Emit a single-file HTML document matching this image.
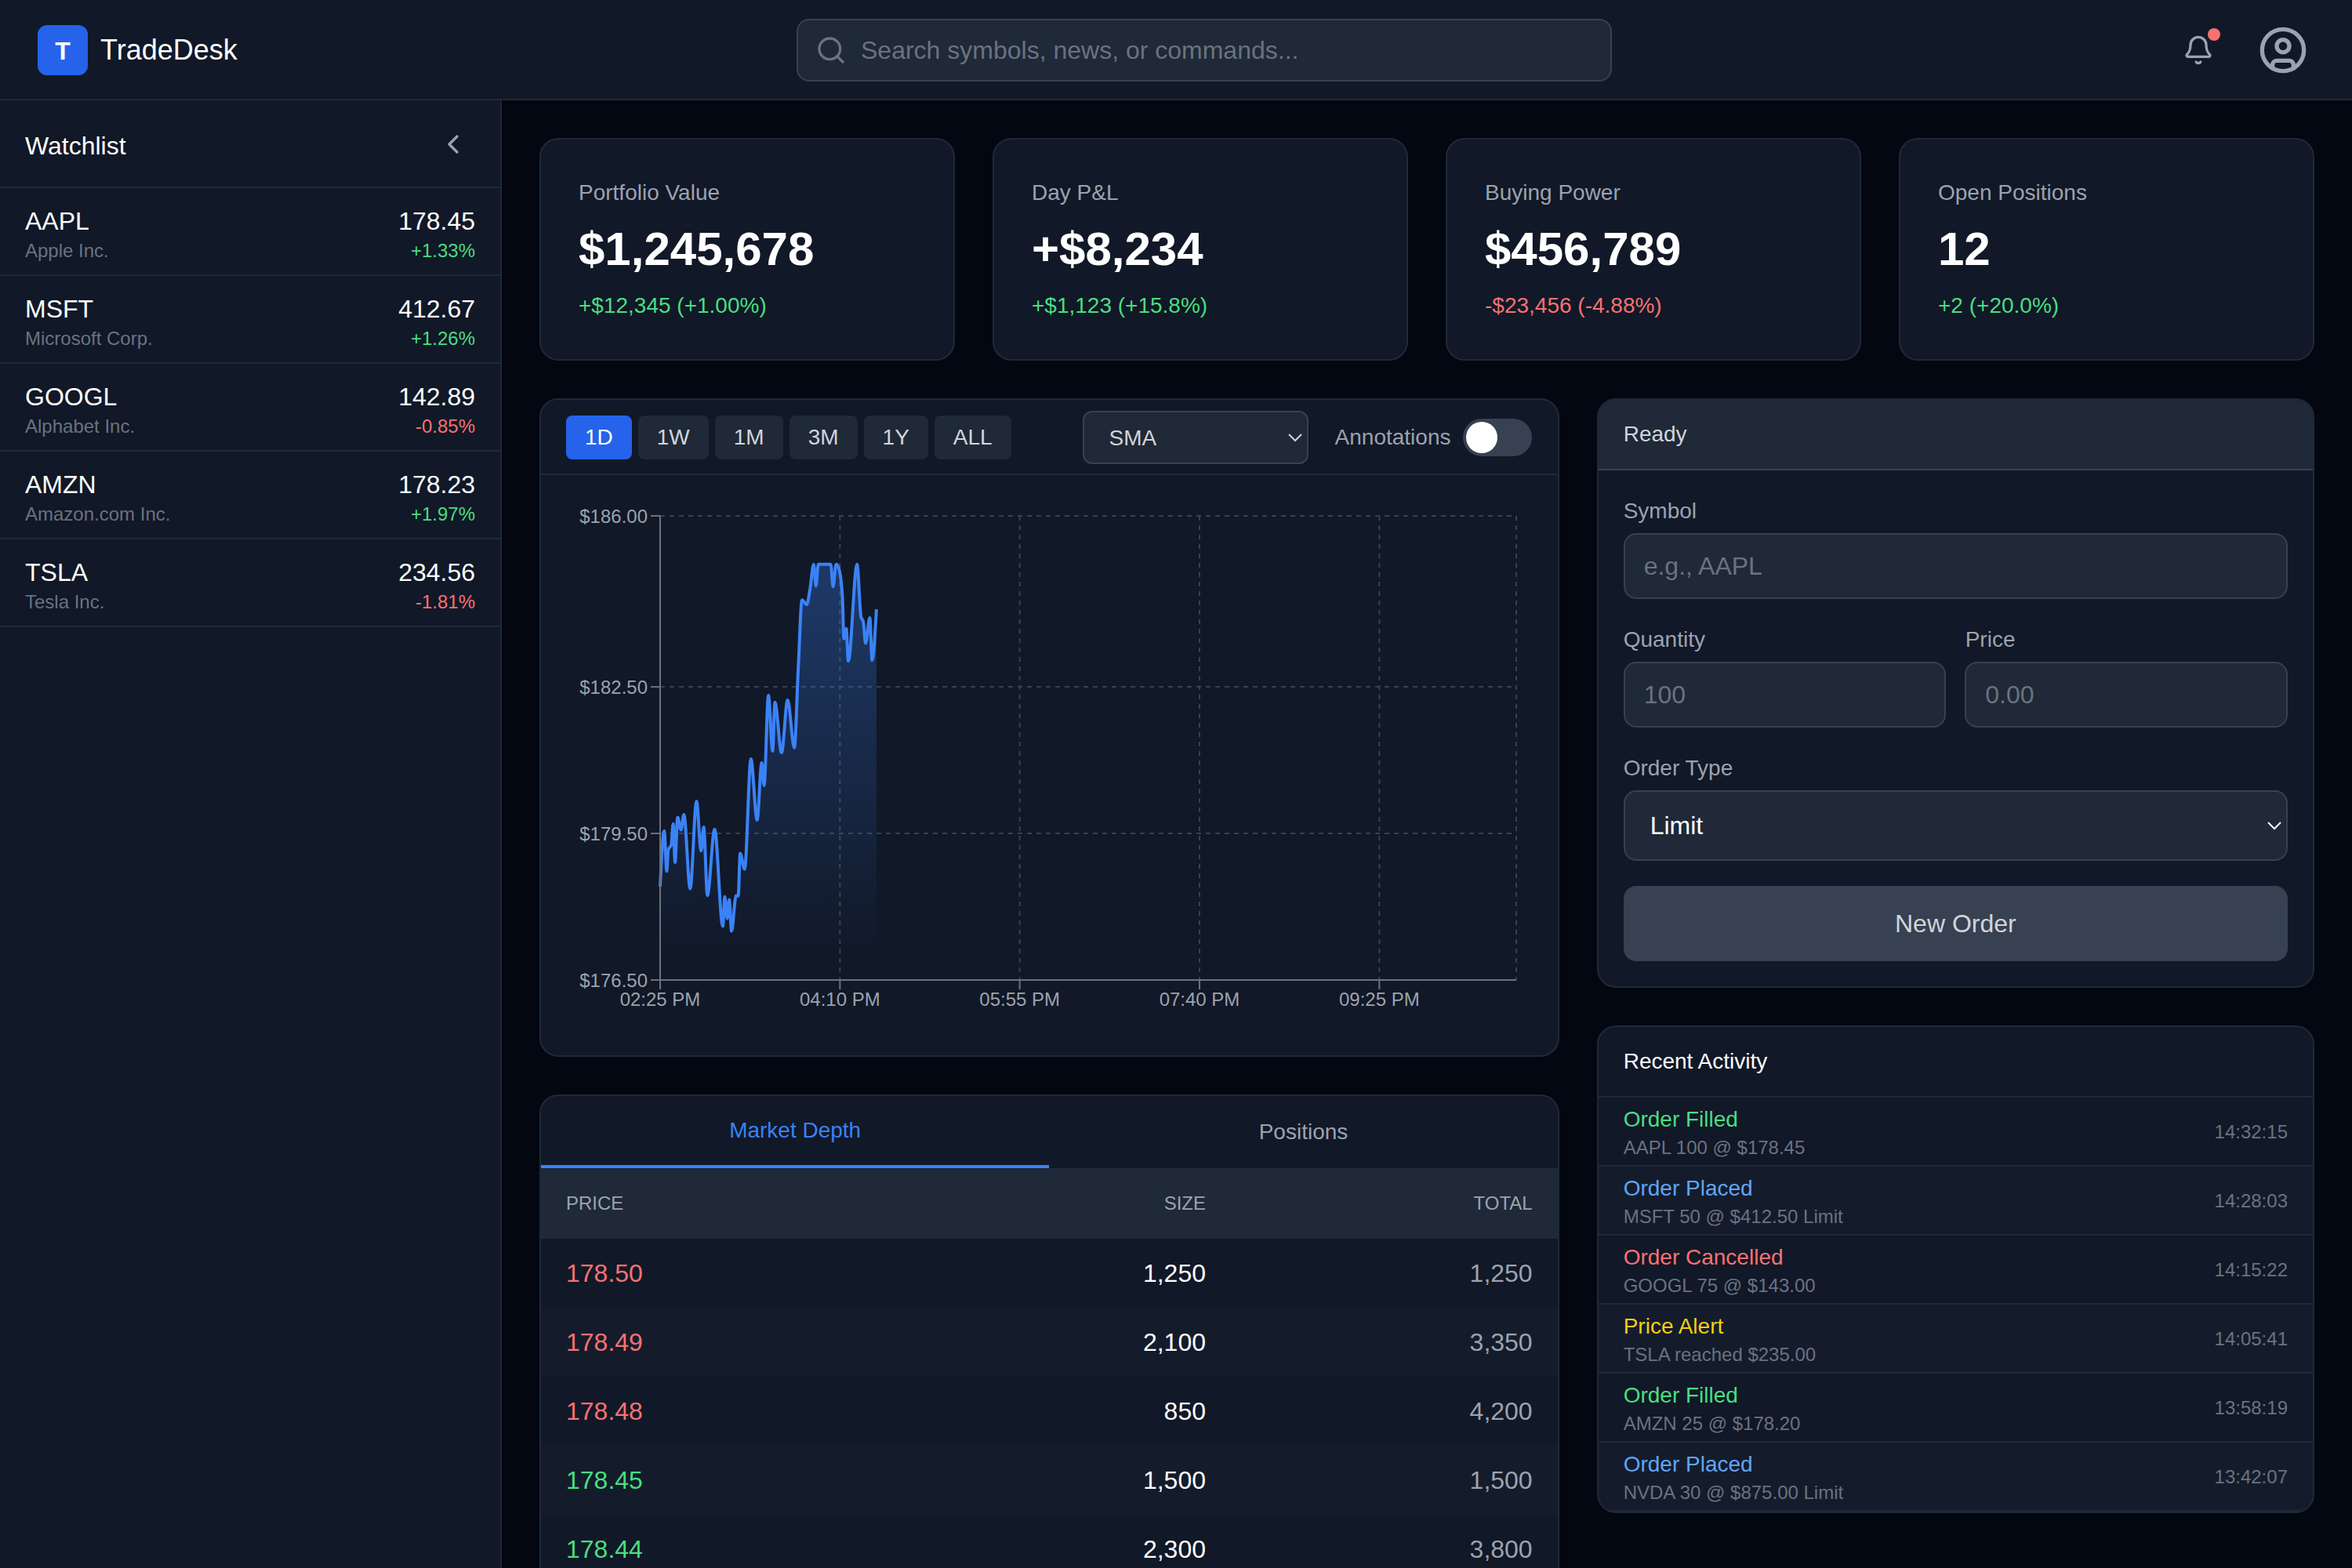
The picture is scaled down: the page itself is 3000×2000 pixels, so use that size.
<!DOCTYPE html>
<html lang="en">
<head>
<meta charset="utf-8">
<title>TradeDesk</title>
<style>
*{box-sizing:border-box;margin:0;padding:0}
html,body{width:1500px;height:1000px;overflow:hidden;background:#030712;font-family:"Liberation Sans",Arial,sans-serif;color:#f3f4f6}
.abs{position:absolute}
/* header */
#hdr{position:absolute;left:0;top:0;width:1500px;height:64px;background:#111827;border-bottom:1px solid #1f2937}
#logo{position:absolute;left:24px;top:16px;width:32px;height:32px;background:#2563eb;border-radius:6px;color:#fff;font-size:16px;font-weight:700;line-height:33px;text-align:center}
#brand{position:absolute;left:64px;top:18px;font-size:18px;line-height:28px;color:#fff;white-space:nowrap}
#search{position:absolute;left:508px;top:12px;width:520px;height:40px;background:#1f2937;border:1px solid #374151;border-radius:8px}
#search .ph{position:absolute;left:0;top:0;width:518px;height:38px;padding:0 12px 0 40px;border:0;background:transparent;font-family:inherit;font-size:16px;line-height:24px;color:#fff;outline:none}
#search .ph::placeholder{color:#6b7280;opacity:1}
#search svg{position:absolute;left:11px;top:9px}
/* sidebar */
#side{position:absolute;left:0;top:64px;width:320px;height:936px;background:#111827;border-right:1px solid #1f2937}
#side .wh{position:absolute;left:0;top:0;width:319px;height:56px;border-bottom:1px solid #1f2937}
#side .wh .t{position:absolute;left:16px;top:17px;font-size:16px;line-height:24px;color:#fff}
.wrow{position:absolute;left:0;width:319px;height:56px;border-bottom:1px solid #1f2937}
.wrow .tk{position:absolute;left:16px;top:9px;font-size:16px;line-height:24px;color:#fff}
.wrow .nm{position:absolute;left:16px;top:32px;font-size:12px;line-height:16px;color:#6b7280}
.wrow .pr{position:absolute;right:16px;top:9px;font-size:16px;line-height:24px;color:#fff}
.wrow .ch{position:absolute;right:16px;top:32px;font-size:12px;line-height:16px}
.g{color:#4ade80}.r{color:#f87171}.b{color:#60a5fa}.y{color:#facc15}
/* cards */
.card{position:absolute;background:#111827;border:1px solid #1f2937;border-radius:12px;overflow:hidden}
.stat .lb{position:absolute;left:24px;top:24px;font-size:14px;line-height:20px;color:#9ca3af;white-space:nowrap}
.stat .vl{position:absolute;left:24px;top:52px;font-size:30px;font-weight:700;line-height:36px;color:#fff;white-space:nowrap}
.stat .cg{position:absolute;left:24px;top:96px;font-size:14px;line-height:20px;white-space:nowrap}

/* chart card */
.tb{position:absolute;left:0;top:0;width:100%;height:48px;border-bottom:1px solid #1f2937}
.tf{position:absolute;left:16px;top:10px;display:flex;gap:4px}
.tf div{height:28px;padding:0 12px;font-size:14px;line-height:28px;border-radius:4px;background:#1f2937;color:#d1d5db}
.tf div.on{background:#2563eb;color:#fff}

/* order panel */
.fl{position:absolute;font-size:14px;line-height:20px;color:#9ca3af;white-space:nowrap}
.inp{position:absolute;height:42px;background:#1f2937;border:1px solid #374151;border-radius:8px;padding:0 12px;font-size:16px;line-height:24px;color:#fff;font-family:inherit;outline:none}
.inp::placeholder{color:#6b7280;opacity:1}
select.ns{position:absolute;font-family:inherit;outline:none}

/* depth */
.tab{position:absolute;top:0;height:46px;font-size:14px;line-height:20px;text-align:center}
.th{position:absolute;font-size:12px;line-height:16px;color:#9ca3af;white-space:nowrap}
.dr{position:absolute;left:0;width:100%;height:44px}
.dr div{position:absolute;top:10px;font-size:16px;line-height:24px;white-space:nowrap}
.dr .c1{left:16px}.dr .c2{right:224.33px;color:#fff}.dr .c3{right:16px;color:#9ca3af}
.alt{background:rgba(31,41,55,0.3)}
/* activity */
.ar{position:absolute;left:0;width:100%;height:44px;border-bottom:1px solid #1f2937}
.ar .t1{position:absolute;left:16px;top:4px;font-size:14px;line-height:20px;white-space:nowrap}
.ar .t2{position:absolute;left:16px;top:24px;font-size:12px;line-height:16px;color:#6b7280;white-space:nowrap}
.ar .tm{position:absolute;right:16px;top:14px;font-size:12px;line-height:16px;color:#6b7280}
@media (min-width:2500px){html{zoom:2}}
</style>
</head>
<body>
<div id="hdr">
  <div id="logo">T</div>
  <div id="brand">TradeDesk</div>
  <div id="search">
    <svg width="20" height="20" viewBox="0 0 24 24" fill="none" stroke="#6b7280" stroke-width="2" stroke-linecap="round" stroke-linejoin="round"><circle cx="11" cy="11" r="8"/><path d="m21 21-4.3-4.3"/></svg>
    <input class="ph" placeholder="Search symbols, news, or commands...">
  </div>
  <svg class="abs" style="left:1392px;top:22px" width="20" height="20" viewBox="0 0 24 24" fill="none" stroke="#9ca3af" stroke-width="2" stroke-linecap="round" stroke-linejoin="round"><path d="M10.268 21a2 2 0 0 0 3.464 0"/><path d="M3.262 15.326A1 1 0 0 0 4 17h16a1 1 0 0 0 .74-1.673C19.41 13.956 18 12.499 18 8A6 6 0 0 0 6 8c0 4.499-1.411 5.956-2.738 7.326"/></svg>
  <div class="abs" style="left:1408px;top:18px;width:8px;height:8px;border-radius:50%;background:#f87171"></div>
  <svg class="abs" style="left:1440px;top:16px" width="32" height="32" viewBox="0 0 24 24" fill="none" stroke="#9ca3af" stroke-width="2" stroke-linecap="round" stroke-linejoin="round"><circle cx="12" cy="12" r="10"/><circle cx="12" cy="10" r="3"/><path d="M7 20.662V19a2 2 0 0 1 2-2h6a2 2 0 0 1 2 2v1.662"/></svg>
</div>

<div id="side">
  <div class="wh"><div class="t">Watchlist</div>
    <svg class="abs" style="left:279px;top:18px" width="20" height="20" viewBox="0 0 24 24" fill="none" stroke="#9ca3af" stroke-width="2" stroke-linecap="round" stroke-linejoin="round"><path d="m15 18-6-6 6-6"/></svg>
  </div>
  <div class="wrow" style="top:56px"><div class="tk">AAPL</div><div class="nm">Apple Inc.</div><div class="pr">178.45</div><div class="ch g">+1.33%</div></div>
  <div class="wrow" style="top:112px"><div class="tk">MSFT</div><div class="nm">Microsoft Corp.</div><div class="pr">412.67</div><div class="ch g">+1.26%</div></div>
  <div class="wrow" style="top:168px"><div class="tk">GOOGL</div><div class="nm">Alphabet Inc.</div><div class="pr">142.89</div><div class="ch r">-0.85%</div></div>
  <div class="wrow" style="top:224px"><div class="tk">AMZN</div><div class="nm">Amazon.com Inc.</div><div class="pr">178.23</div><div class="ch g">+1.97%</div></div>
  <div class="wrow" style="top:280px"><div class="tk">TSLA</div><div class="nm">Tesla Inc.</div><div class="pr">234.56</div><div class="ch r">-1.81%</div></div>
</div>

<div class="card stat" style="left:344px;top:88px;width:265px;height:142px"><div class="lb">Portfolio Value</div><div class="vl">$1,245,678</div><div class="cg g">+$12,345 (+1.00%)</div></div>
<div class="card stat" style="left:633px;top:88px;width:265px;height:142px"><div class="lb">Day P&amp;L</div><div class="vl">+$8,234</div><div class="cg g">+$1,123 (+15.8%)</div></div>
<div class="card stat" style="left:922px;top:88px;width:265px;height:142px"><div class="lb">Buying Power</div><div class="vl">$456,789</div><div class="cg r">-$23,456 (-4.88%)</div></div>
<div class="card stat" style="left:1211px;top:88px;width:265px;height:142px"><div class="lb">Open Positions</div><div class="vl">12</div><div class="cg g">+2 (+20.0%)</div></div>

<div class="card" style="left:344px;top:254px;width:650.33px;height:420px">
  <div class="tb">
    <div class="tf"><div class="on">1D</div><div>1W</div><div>1M</div><div>3M</div><div>1Y</div><div>ALL</div></div>
    <select class="ns" style="left:345.3px;top:7px;width:144.4px;height:34px;padding:6px 12px;background:#1f2937;border:1px solid #374151;border-radius:6px;color:#d1d5db;font-size:14px"><option>SMA</option><option>EMA</option></select>
    <div class="abs" style="left:506.3px;top:14px;font-size:14px;line-height:20px;color:#9ca3af">Annotations</div>
    <div class="abs" style="left:588px;top:12px;width:44px;height:24px;border-radius:12px;background:#374151"><div class="abs" style="left:2px;top:2px;width:20px;height:20px;border-radius:50%;background:#fff"></div></div>
  </div>
  <!--PLOTSTART--><svg class="abs" style="left:-1px;top:-1px" width="650.33" height="419" viewBox="344 254 650.33 419">
<defs><linearGradient id="fg" x1="0" y1="0" x2="0" y2="1"><stop offset="5%" stop-color="#3b82f6" stop-opacity="0.3"/><stop offset="95%" stop-color="#3b82f6" stop-opacity="0"/></linearGradient></defs>
<g stroke="#374151" stroke-dasharray="3 3" fill="none"><line x1="421" y1="329.00" x2="967.00" y2="329.00"/><line x1="421" y1="438.05" x2="967.00" y2="438.05"/><line x1="421" y1="531.53" x2="967.00" y2="531.53"/><line x1="535.67" y1="329" x2="535.67" y2="625.00"/><line x1="650.33" y1="329" x2="650.33" y2="625.00"/><line x1="765.00" y1="329" x2="765.00" y2="625.00"/><line x1="879.67" y1="329" x2="879.67" y2="625.00"/><line x1="967.00" y1="329" x2="967.00" y2="625.00"/></g>
<path d="M421.00,565.45C421.87,547.67 422.73,529.90 423.60,529.90C424.15,529.90 424.70,555.65 425.25,555.65C425.57,555.65 425.88,543.08 426.20,542.00C426.83,539.83 427.47,540.92 428.10,538.75C428.50,537.38 428.90,525.35 429.30,525.35C429.72,525.35 430.13,550.00 430.55,550.00C431.08,550.00 431.62,521.25 432.15,521.25C432.87,521.25 433.58,529.30 434.30,529.30C434.92,529.30 435.53,519.50 436.15,519.50C437.48,519.50 438.82,566.75 440.15,566.75C441.50,566.75 442.85,511.00 444.20,511.00C445.18,511.00 446.17,542.60 447.15,542.60C447.70,542.60 448.25,527.35 448.80,527.35C449.58,527.35 450.37,571.10 451.15,571.10C452.68,571.10 454.22,528.85 455.75,528.85C457.48,528.85 459.22,590.70 460.95,590.70C461.38,590.70 461.82,571.90 462.25,571.90C462.77,571.90 463.28,585.80 463.80,585.80C464.23,585.80 464.67,573.70 465.10,573.70C465.58,573.70 466.07,593.85 466.55,593.85C467.52,593.85 468.48,571.10 469.45,571.10C469.90,571.10 470.35,571.40 470.80,571.40C471.22,571.40 471.63,544.30 472.05,544.30C473.00,544.30 473.95,554.35 474.90,554.35C476.23,554.35 477.57,483.95 478.90,483.95C480.22,483.95 481.53,523.00 482.85,523.00C483.83,523.00 484.82,486.40 485.80,486.40C486.30,486.40 486.80,501.00 487.30,501.00C488.22,501.00 489.13,443.40 490.05,443.40C490.95,443.40 491.85,479.00 492.75,479.00C493.23,479.00 493.72,447.85 494.20,447.85C495.62,447.85 497.03,480.00 498.45,480.00C499.73,480.00 501.02,446.40 502.30,446.40C503.73,446.40 505.17,477.00 506.60,477.00C507.42,477.00 508.23,442.83 509.05,427.10C509.87,411.37 510.68,382.60 511.50,382.60C512.50,382.60 513.50,385.60 514.50,385.60C515.15,385.60 515.80,380.28 516.45,376.70C517.28,372.11 518.12,359.90 518.95,359.90C519.43,359.90 519.92,373.70 520.40,373.70C520.90,373.70 521.40,359.90 521.90,359.90C523.22,359.90 524.53,359.90 525.85,359.90C527.17,359.90 528.48,359.90 529.80,359.90C530.30,359.90 530.80,374.20 531.30,374.20C531.95,374.20 532.60,359.90 533.25,359.90C533.75,359.90 534.25,360.55 534.75,361.85C535.57,363.97 536.38,367.78 537.20,379.65C537.53,384.49 537.87,407.35 538.20,407.35C538.70,407.35 539.20,400.90 539.70,400.90C540.13,400.90 540.57,421.65 541.00,421.65C542.87,421.65 544.73,359.90 546.60,359.90C547.43,359.90 548.27,390.11 549.10,393.50C549.58,395.47 550.07,394.48 550.55,396.45C551.05,398.48 551.55,410.30 552.05,410.30C552.93,410.30 553.82,394.00 554.70,394.00C555.20,394.00 555.70,421.15 556.20,421.15C557.12,421.15 558.03,404.85 558.95,388.55L558.95,625.00L421.00,625.00Z" fill="url(#fg)" stroke="none"/>
<path d="M421.00,565.45C421.87,547.67 422.73,529.90 423.60,529.90C424.15,529.90 424.70,555.65 425.25,555.65C425.57,555.65 425.88,543.08 426.20,542.00C426.83,539.83 427.47,540.92 428.10,538.75C428.50,537.38 428.90,525.35 429.30,525.35C429.72,525.35 430.13,550.00 430.55,550.00C431.08,550.00 431.62,521.25 432.15,521.25C432.87,521.25 433.58,529.30 434.30,529.30C434.92,529.30 435.53,519.50 436.15,519.50C437.48,519.50 438.82,566.75 440.15,566.75C441.50,566.75 442.85,511.00 444.20,511.00C445.18,511.00 446.17,542.60 447.15,542.60C447.70,542.60 448.25,527.35 448.80,527.35C449.58,527.35 450.37,571.10 451.15,571.10C452.68,571.10 454.22,528.85 455.75,528.85C457.48,528.85 459.22,590.70 460.95,590.70C461.38,590.70 461.82,571.90 462.25,571.90C462.77,571.90 463.28,585.80 463.80,585.80C464.23,585.80 464.67,573.70 465.10,573.70C465.58,573.70 466.07,593.85 466.55,593.85C467.52,593.85 468.48,571.10 469.45,571.10C469.90,571.10 470.35,571.40 470.80,571.40C471.22,571.40 471.63,544.30 472.05,544.30C473.00,544.30 473.95,554.35 474.90,554.35C476.23,554.35 477.57,483.95 478.90,483.95C480.22,483.95 481.53,523.00 482.85,523.00C483.83,523.00 484.82,486.40 485.80,486.40C486.30,486.40 486.80,501.00 487.30,501.00C488.22,501.00 489.13,443.40 490.05,443.40C490.95,443.40 491.85,479.00 492.75,479.00C493.23,479.00 493.72,447.85 494.20,447.85C495.62,447.85 497.03,480.00 498.45,480.00C499.73,480.00 501.02,446.40 502.30,446.40C503.73,446.40 505.17,477.00 506.60,477.00C507.42,477.00 508.23,442.83 509.05,427.10C509.87,411.37 510.68,382.60 511.50,382.60C512.50,382.60 513.50,385.60 514.50,385.60C515.15,385.60 515.80,380.28 516.45,376.70C517.28,372.11 518.12,359.90 518.95,359.90C519.43,359.90 519.92,373.70 520.40,373.70C520.90,373.70 521.40,359.90 521.90,359.90C523.22,359.90 524.53,359.90 525.85,359.90C527.17,359.90 528.48,359.90 529.80,359.90C530.30,359.90 530.80,374.20 531.30,374.20C531.95,374.20 532.60,359.90 533.25,359.90C533.75,359.90 534.25,360.55 534.75,361.85C535.57,363.97 536.38,367.78 537.20,379.65C537.53,384.49 537.87,407.35 538.20,407.35C538.70,407.35 539.20,400.90 539.70,400.90C540.13,400.90 540.57,421.65 541.00,421.65C542.87,421.65 544.73,359.90 546.60,359.90C547.43,359.90 548.27,390.11 549.10,393.50C549.58,395.47 550.07,394.48 550.55,396.45C551.05,398.48 551.55,410.30 552.05,410.30C552.93,410.30 553.82,394.00 554.70,394.00C555.20,394.00 555.70,421.15 556.20,421.15C557.12,421.15 558.03,404.85 558.95,388.55" fill="none" stroke="#3b82f6" stroke-width="2"/>
<g stroke="#6b7280" fill="none"><line x1="421" y1="329" x2="421" y2="625.00"/><line x1="421" y1="625.00" x2="967.00" y2="625.00"/><line x1="415" y1="329.00" x2="421" y2="329.00"/><line x1="415" y1="438.05" x2="421" y2="438.05"/><line x1="415" y1="531.53" x2="421" y2="531.53"/><line x1="415" y1="625.00" x2="421" y2="625.00"/><line x1="421.00" y1="625.00" x2="421.00" y2="631.00"/><line x1="535.67" y1="625.00" x2="535.67" y2="631.00"/><line x1="650.33" y1="625.00" x2="650.33" y2="631.00"/><line x1="765.00" y1="625.00" x2="765.00" y2="631.00"/><line x1="879.67" y1="625.00" x2="879.67" y2="631.00"/></g>
<g fill="#9ca3af" font-size="12" font-family="Liberation Sans, Arial, sans-serif"><text x="413" y="333.26" text-anchor="end">$186.00</text><text x="413" y="442.31" text-anchor="end">$182.50</text><text x="413" y="535.79" text-anchor="end">$179.50</text><text x="413" y="629.26" text-anchor="end">$176.50</text><text x="421.00" y="641.52" text-anchor="middle">02:25 PM</text><text x="535.67" y="641.52" text-anchor="middle">04:10 PM</text><text x="650.33" y="641.52" text-anchor="middle">05:55 PM</text><text x="765.00" y="641.52" text-anchor="middle">07:40 PM</text><text x="879.67" y="641.52" text-anchor="middle">09:25 PM</text></g>
</svg><!--PLOTEND-->
</div>

<div class="card" style="left:1018.33px;top:254px;width:457.67px;height:376px">
  <div class="abs" style="left:0;top:0;width:100%;height:45px;background:#1f2937;border-bottom:1px solid #374151"><div class="abs" style="left:16px;top:12px;font-size:14px;line-height:20px;color:#d1d5db">Ready</div></div>
  <div class="fl" style="left:16px;top:61px">Symbol</div>
  <input class="inp" style="left:16px;top:85px;width:423.67px" placeholder="e.g., AAPL">
  <div class="fl" style="left:16px;top:143px">Quantity</div>
  <input class="inp" style="left:16px;top:167px;width:205.83px" placeholder="100">
  <div class="fl" style="left:234px;top:143px">Price</div>
  <input class="inp" style="left:233.83px;top:167px;width:205.83px" placeholder="0.00">
  <div class="fl" style="left:16px;top:225px">Order Type</div>
  <select class="ns" style="left:16px;top:249px;width:423.67px;height:45px;padding:8px 12px;background:#1f2937;border:1px solid #374151;border-radius:8px;color:#fff;font-size:16px"><option>Limit</option><option>Market</option></select>
  <div class="abs" style="left:16px;top:310px;width:423.67px;height:48px;background:#374151;border-radius:8px;color:#d1d5db;font-size:16px;line-height:48px;text-align:center">New Order</div>
</div>

<div class="card" style="left:344px;top:698px;width:650.33px;height:400px">
  <div class="tab" style="left:0;width:324.17px;color:#3b82f6;border-bottom:2px solid #3b82f6;padding-top:12px">Market Depth</div>
  <div class="tab" style="left:324.17px;width:324.17px;color:#9ca3af;padding-top:13px">Positions</div>
  <div class="abs" style="left:0;top:46px;width:100%;height:45px;background:#1f2937">
    <div class="th" style="left:16px;top:14.5px">PRICE</div><div class="th" style="right:224.33px;top:14.5px">SIZE</div><div class="th" style="right:16px;top:14.5px">TOTAL</div>
  </div>
<div class="dr" style="top:91px"><div class="c1 r">178.50</div><div class="c2">1,250</div><div class="c3">1,250</div></div>
<div class="dr alt" style="top:135px"><div class="c1 r">178.49</div><div class="c2">2,100</div><div class="c3">3,350</div></div>
<div class="dr" style="top:179px"><div class="c1 r">178.48</div><div class="c2">850</div><div class="c3">4,200</div></div>
<div class="dr alt" style="top:223px"><div class="c1 g">178.45</div><div class="c2">1,500</div><div class="c3">1,500</div></div>
<div class="dr" style="top:267px"><div class="c1 g">178.44</div><div class="c2">2,300</div><div class="c3">3,800</div></div>
</div>

<div class="card" style="left:1018.33px;top:654px;width:457.67px;height:311px">
  <div class="abs" style="left:0;top:0;width:100%;height:45px;border-bottom:1px solid #1f2937"><div class="abs" style="left:16px;top:12px;font-size:14px;line-height:20px;color:#fff">Recent Activity</div></div>
<div class="ar" style="top:45px"><div class="t1 g">Order Filled</div><div class="t2">AAPL 100 @ $178.45</div><div class="tm">14:32:15</div></div>
<div class="ar alt" style="top:89px"><div class="t1 b">Order Placed</div><div class="t2">MSFT 50 @ $412.50 Limit</div><div class="tm">14:28:03</div></div>
<div class="ar" style="top:133px"><div class="t1 r">Order Cancelled</div><div class="t2">GOOGL 75 @ $143.00</div><div class="tm">14:15:22</div></div>
<div class="ar alt" style="top:177px"><div class="t1 y">Price Alert</div><div class="t2">TSLA reached $235.00</div><div class="tm">14:05:41</div></div>
<div class="ar" style="top:221px"><div class="t1 g">Order Filled</div><div class="t2">AMZN 25 @ $178.20</div><div class="tm">13:58:19</div></div>
<div class="ar alt" style="top:265px"><div class="t1 b">Order Placed</div><div class="t2">NVDA 30 @ $875.00 Limit</div><div class="tm">13:42:07</div></div>
</div>

</body>
</html>
